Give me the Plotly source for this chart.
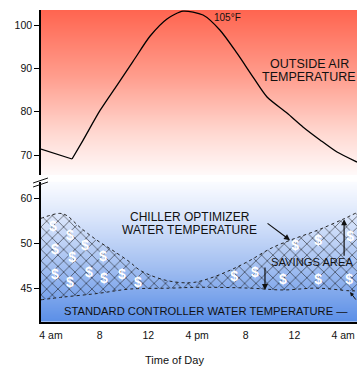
import plotly.graph_objects as go

# ---------------- data ----------------
x_tick_hours = [4, 8, 12, 16, 20, 24, 28]
x_tick_labels = ["4 am", "8", "12", "4 pm", "8", "12", "4 am"]

air_ticks = [70, 80, 90, 100]
water_ticks = [45, 50, 60]

oat_hours = [3.18, 5.73, 6.63, 8.03, 9.42, 10.74, 12.13, 13.53, 14.85, 16.49, 17.89,
             19.28, 20.6, 21.75, 23.39, 24.7, 26.1, 27.5, 29.14]
oat_temp = [71.4, 69.1, 73.4, 80.3, 86.1, 91.6, 97.4, 101.4, 103.2, 102.3, 98.8,
            93.5, 88.0, 83.4, 79.7, 76.5, 73.5, 70.7, 68.4]

opt_hours = [3.18, 4.74, 5.31, 6.38, 7.78, 9.09, 10.49, 11.31, 13.37, 15.42,
             16.82, 18.71, 20.35, 22.0, 23.64, 25.86, 27.99, 29.14]
opt_temp = [55.6, 56.7, 56.2, 53.6, 50.7, 49.2, 47.9, 47.0, 45.9, 45.6,
            46.0, 47.0, 48.1, 49.4, 50.7, 52.9, 55.4, 56.9]

std_hours = [3.18, 4.99, 7.78, 10.49, 13.78, 16.24, 20.35, 23.06, 25.86, 28.57, 29.14]
std_temp = [43.7, 44.0, 44.4, 44.9, 45.0, 45.1, 45.0, 44.8, 45.0, 44.7, 44.7]

dollar_hours = [4.16, 5.56, 6.79, 8.27, 4.33, 5.73, 4.33, 5.56, 7.12, 8.35, 9.83, 11.15,
                19.04, 20.76, 23.06, 24.05, 25.94, 28.57, 25.94, 28.49]
dollar_temp = [53.6, 51.6, 49.6, 48.4, 49.2, 48.3, 46.44, 45.56, 46.67, 46.0, 46.44, 45.56,
               46.22, 46.67, 45.9, 49.6, 50.4, 51.3, 45.9, 45.9]

peak_label = "105°F"


# broken water-temperature scale: above 50 °F the axis is compressed by half
def wy(t):
    return t if t <= 50 else 50 + (t - 50) / 2


X_RANGE = [3.18, 29.14]
AIR_RANGE = [65.4, 103.46]
WATER_RANGE = [41.22, 56.9]
FONT = "Liberation Sans, Arial, sans-serif"

fig = go.Figure()

# gradient backgrounds
fig.add_trace(go.Heatmap(
    x=X_RANGE, y=AIR_RANGE, z=[[0, 0], [1, 1]], zmin=0, zmax=1, zsmooth="best",
    colorscale=[[0, "#fffafa"], [0.25, "#ffd9d2"], [0.6, "#ff9d8d"], [1, "#ff6550"]],
    showscale=False, hoverinfo="skip", xaxis="x", yaxis="y"))
fig.add_trace(go.Heatmap(
    x=X_RANGE, y=WATER_RANGE, z=[[0, 0], [1, 1]], zmin=0, zmax=1, zsmooth="best",
    colorscale=[[0, "#5b8fe7"], [0.4, "#a4c0f1"], [0.75, "#dbe6fb"], [1, "#fbfcff"]],
    showscale=False, hoverinfo="skip", xaxis="x", yaxis="y2"))

# outside air temperature
fig.add_trace(go.Scatter(
    x=oat_hours[:2], y=oat_temp[:2], mode="lines",
    line=dict(color="black", width=1.3), hoverinfo="skip", xaxis="x", yaxis="y"))
fig.add_trace(go.Scatter(
    x=oat_hours[1:], y=oat_temp[1:], mode="lines",
    line=dict(color="black", width=1.3, shape="spline", smoothing=0.7),
    hoverinfo="skip", xaxis="x", yaxis="y"))

# standard controller water temp (lower) and optimizer (upper) with savings hatch
fig.add_trace(go.Scatter(
    x=std_hours, y=[wy(t) for t in std_temp], mode="lines",
    line=dict(color="#222", width=1, dash="dot", shape="spline"),
    hoverinfo="skip", xaxis="x", yaxis="y2"))
fig.add_trace(go.Scatter(
    x=opt_hours, y=[wy(t) for t in opt_temp], mode="lines",
    line=dict(color="#222", width=1, dash="dot", shape="spline"),
    fill="tonexty", fillcolor="rgba(0,0,0,0)",
    fillpattern=dict(shape="x", fgcolor="#111", bgcolor="rgba(0,0,0,0)",
                     size=8, solidity=0.14, fgopacity=0.9),
    hoverinfo="skip", xaxis="x", yaxis="y2"))

# dollar signs
fig.add_trace(go.Scatter(
    x=dollar_hours, y=[wy(t) for t in dollar_temp], mode="text",
    text=["$"] * len(dollar_hours),
    textfont=dict(color="white", size=14, family=FONT, weight="bold"),
    hoverinfo="skip", xaxis="x", yaxis="y2"))

txt = dict(family=FONT, size=12, color="#111")
big = dict(family=FONT, size=12.5, color="#111")
ann = [
    dict(x=18.54, y=101.8, xref="x", yref="y", text=peak_label, showarrow=False,
         font=dict(family=FONT, size=10, color="#111")),
    dict(x=25.2, y=91.0, xref="x", yref="y", text="OUTSIDE AIR", showarrow=False, font=big),
    dict(x=25.2, y=88.0, xref="x", yref="y", text="TEMPERATURE", showarrow=False, font=big),
    dict(x=15.42, y=wy(55.8), xref="x", yref="y2", text="CHILLER OPTIMIZER",
         showarrow=False, font=txt),
    dict(x=15.42, y=wy(53.1), xref="x", yref="y2", text="WATER TEMPERATURE",
         showarrow=False, font=txt),
    dict(x=21.95, y=47.89, xref="x", yref="y2", text="SAVINGS AREA", xanchor="left",
         showarrow=False, font=dict(family=FONT, size=11.2, color="#111")),
    dict(x=16.74, y=42.44, xref="x", yref="y2",
         text="STANDARD CONTROLLER WATER TEMPERATURE —", showarrow=False,
         font=dict(family=FONT, size=11.2, color="#111")),
    # arrows
    dict(x=23.64, y=wy(50.7), xref="x", yref="y2", text="", showarrow=True,
         ax=-24, ay=-18, arrowhead=2, arrowsize=1, arrowwidth=1.2, arrowcolor="#111"),
    dict(x=21.58, y=44.78, xref="x", yref="y2", text="", showarrow=True,
         ax=0, ay=-24, arrowhead=2, arrowsize=1, arrowwidth=1.2, arrowcolor="#111"),
    dict(x=28.08, y=wy(55.4), xref="x", yref="y2", text="", showarrow=True,
         ax=0, ay=38, arrowhead=2, arrowsize=1, arrowwidth=1.2, arrowcolor="#111"),
    dict(x=28.57, y=44.56, xref="x", yref="y2", text="", showarrow=True,
         ax=8, ay=9, arrowhead=2, arrowsize=0.8, arrowwidth=1, arrowcolor="#111"),
    # axis title
    dict(x=0.421, y=-0.122, xref="paper", yref="paper", text="Time of Day",
         showarrow=False, yanchor="middle",
         font=dict(family=FONT, size=11, color="#111")),
]

shapes = [
    dict(type="line", xref="paper", yref="paper", x0=-0.025, y0=0.4455, x1=0.022, y1=0.4615,
         line=dict(color="#111", width=1)),
    dict(type="line", xref="paper", yref="paper", x0=-0.025, y0=0.4327, x1=0.022, y1=0.4487,
         line=dict(color="#111", width=1)),
]

tickfont = dict(family=FONT, size=10.5, color="#111")
fig.update_layout(
    width=357, height=367,
    margin=dict(l=41, r=0, t=10, b=45),
    paper_bgcolor="white", plot_bgcolor="white",
    showlegend=False,
    annotations=ann, shapes=shapes,
    xaxis=dict(range=X_RANGE, anchor="y2", tickvals=x_tick_hours, ticktext=x_tick_labels,
               showgrid=False, zeroline=False, showline=True, linecolor="black",
               linewidth=2, ticks="", tickfont=tickfont, ticklabelstandoff=2),
    yaxis=dict(domain=[0.471, 1], range=AIR_RANGE, anchor="x", tickvals=air_ticks,
               showgrid=False, zeroline=False, showline=True, linecolor="black",
               linewidth=1.5, ticks="outside", ticklen=5, tickcolor="black",
               tickfont=tickfont),
    yaxis2=dict(domain=[0, 0.45], range=WATER_RANGE, anchor="x",
                tickvals=[wy(t) for t in water_ticks], ticktext=[str(t) for t in water_ticks],
                showgrid=False, zeroline=False, showline=True, linecolor="black",
                linewidth=1.5, ticks="outside", ticklen=5, tickcolor="black",
                tickfont=tickfont),
)

fig.write_html("out.html")
